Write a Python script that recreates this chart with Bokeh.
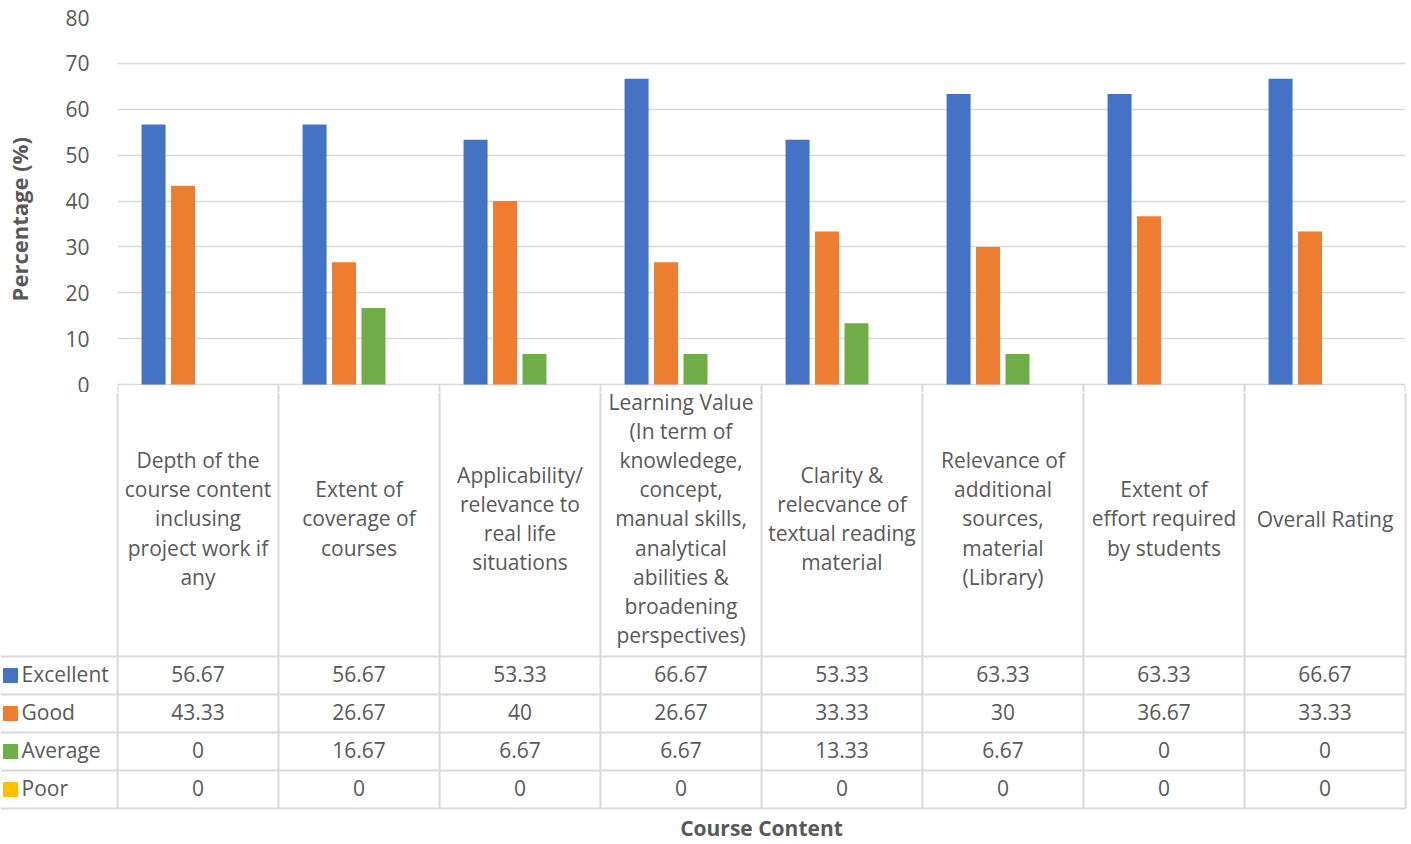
from bokeh.plotting import figure
from bokeh.models import Range1d, FactorRange, SingleIntervalTicker, ColumnDataSource
from bokeh.transform import dodge
from bokeh.core.properties import value
from bokeh.embed import file_html
from bokeh.resources import INLINE

# ---------------- data ----------------
categories = [
    "Depth of the\ncourse content\ninclusing\nproject work if\nany",
    "Extent of\ncoverage of\ncourses",
    "Applicability/\nrelevance to\nreal life\nsituations",
    "Learning Value\n(In term of\nknowledege,\nconcept,\nmanual skills,\nanalytical\nabilities &\nbroadening\nperspectives)",
    "Clarity &\nrelecvance of\ntextual reading\nmaterial",
    "Relevance of\nadditional\nsources,\nmaterial\n(Library)",
    "Extent of\neffort required\nby students",
    "Overall Rating",
]
series_names = ["Excellent", "Good", "Average", "Poor"]
excellent = [56.67, 56.67, 53.33, 66.67, 53.33, 63.33, 63.33, 66.67]
good = [43.33, 26.67, 40, 26.67, 33.33, 30, 36.67, 33.33]
average = [0, 16.67, 6.67, 6.67, 13.33, 6.67, 0, 0]
poor = [0, 0, 0, 0, 0, 0, 0, 0]
y_ticks_interval = 10
y_max = 80

series_values = [excellent, good, average, poor]
colors = ["#4472C4", "#ED7D31", "#70AD47", "#FFC000"]

FONT = "Open Sans"
TXT = "#595959"
LINE = "#D9D9D9"
FS = "21px"

W = 1408
LEFT = 117
RIGHT_PAD = 3
TOP = 17
PLOT_BOTTOM = 384          # pixel row of the value 0
EXTRA = 8                  # frame continues below 0 so the "0" label fits
CAT_W = (W - LEFT - RIGHT_PAD) / len(categories)
n = len(categories)
y_ext = EXTRA * y_max / (PLOT_BOTTOM - TOP)

# ---------------- chart ----------------
src = ColumnDataSource(dict(cat=categories, excellent=excellent, good=good,
                            average=average, poor=poor))
p = figure(width=W, height=PLOT_BOTTOM + EXTRA, x_range=FactorRange(*categories),
           y_range=Range1d(-y_ext, y_max), output_backend="svg",
           toolbar_location=None, x_axis_location=None,
           min_border_left=LEFT, min_border_right=RIGHT_PAD,
           min_border_top=TOP, min_border_bottom=0)
p.outline_line_color = None
p.xgrid.visible = False
p.ygrid.grid_line_color = LINE
p.ygrid.grid_line_width = 1.5

offsets = [-0.276, -0.093, 0.09, 0.273]
keys = ["excellent", "good", "average", "poor"]
for k, off, c in zip(keys, offsets, colors):
    p.vbar(x=dodge("cat", off, range=p.x_range), top=k, width=0.149,
           source=src, fill_color=c, line_color=None)

# top part of the table's column separators (below the 0 line)
vx = [float(i) for i in range(n + 1)]
p.segment(x0=vx, y0=[0] * len(vx), x1=vx, y1=[-y_ext] * len(vx),
          line_color=LINE, line_width=2)

NBSP = "\u00a0"
ax = p.yaxis[0]
ax.ticker = SingleIntervalTicker(interval=y_ticks_interval)
ax.axis_line_color = None
ax.major_tick_line_color = None
ax.minor_tick_line_color = None
ax.major_label_text_font = FONT
ax.major_label_text_font_size = FS
ax.major_label_text_color = TXT
ax.major_label_standoff = 22
ax.axis_label = "Percentage (%)" + NBSP * 5
ax.axis_label_text_font = FONT
ax.axis_label_text_font_size = "22px"
ax.axis_label_text_font_style = "bold"
ax.axis_label_text_color = TXT
ax.axis_label_standoff = 28

# ---------------- data table ----------------
B_TOP = PLOT_BOTTOM + EXTRA
H2 = 844 - B_TOP
x0 = -LEFT / CAT_W
x1 = n + RIGHT_PAD / CAT_W
t = figure(width=W, height=H2, x_range=Range1d(x0, x1),
           y_range=Range1d(B_TOP + H2, B_TOP), output_backend="svg",
           toolbar_location=None, x_axis_location=None, y_axis_location=None,
           min_border_left=0, min_border_right=0, min_border_top=0,
           min_border_bottom=0)
t.outline_line_color = None
t.xgrid.visible = False
t.ygrid.visible = False

head_top = PLOT_BOTTOM
head_bottom = 656
row_h = 38
row_lines = [head_bottom + i * row_h for i in range(len(series_names) + 1)]

# grid lines of the table
t.segment(x0=vx, y0=[B_TOP] * len(vx), x1=vx, y1=[row_lines[-1]] * len(vx),
          line_color=LINE, line_width=2)
t.segment(x0=[x0] * len(row_lines), y0=row_lines, x1=[n] * len(row_lines),
          y1=row_lines, line_color=LINE, line_width=2)

# category labels
t.text(x=[i + 0.5 for i in range(n)], y=[(head_top + head_bottom) / 2 - 2] * n,
       text=categories, text_align="center", text_baseline="middle",
       text_font=value(FONT), text_font_size=FS, text_color=TXT,
       text_line_height=1.04)

# legend column
centers = [row_lines[i] + row_h / 2 for i in range(len(series_names))]
t.scatter(x=[(10 - LEFT) / CAT_W] * 4, y=centers, marker="square", size=14,
          fill_color=colors, line_color=colors)
t.text(x=[(21 - LEFT) / CAT_W] * 4, y=[c - 2 for c in centers],
       text=series_names, text_align="left", text_baseline="middle",
       text_font=value(FONT), text_font_size=FS, text_color=TXT)

# values
for vals, cy in zip(series_values, centers):
    t.text(x=[i + 0.5 for i in range(n)], y=[cy - 2] * n,
           text=[f"{v:g}" for v in vals], text_align="center",
           text_baseline="middle", text_font=value(FONT),
           text_font_size=FS, text_color=TXT)

# axis title
t.text(x=[n / 2], y=[827], text=["Course Content"], text_align="center",
       text_baseline="middle", text_font=value(FONT), text_font_size="21px",
       text_font_style="bold", text_color=TXT)

open("out.html", "w").write(file_html([p, t], INLINE))
